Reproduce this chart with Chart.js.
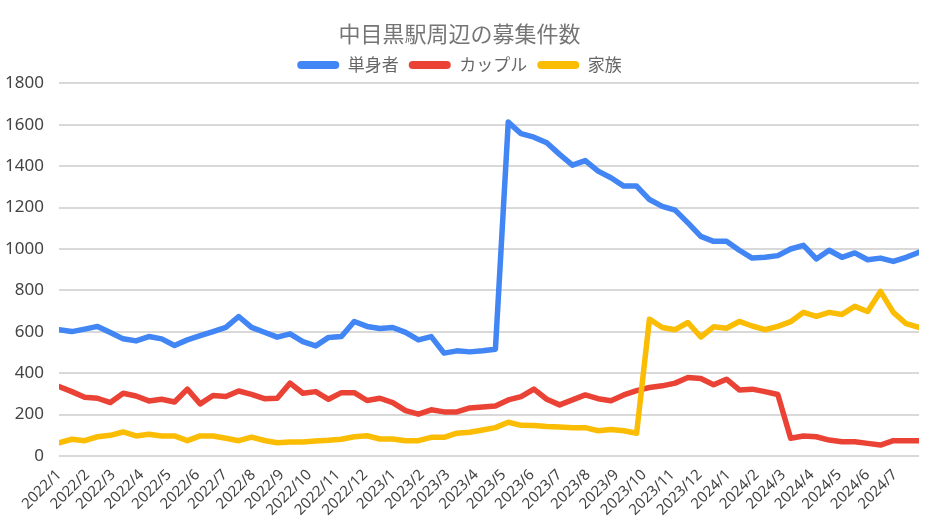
<!DOCTYPE html>
<html>
<head>
<meta charset="utf-8">
<script src="https://cdn.jsdelivr.net/npm/chart.js@4"></script>
<style>
  html, body { margin: 0; padding: 0; background: #ffffff; }
  #wrap { width: 945px; height: 532px; }
</style>
</head>
<body>
<div id="wrap"><canvas id="c" width="945" height="532"></canvas></div>
<script>
// ---- data ----
const tickLabels = ['2022/1','2022/2','2022/3','2022/4','2022/5','2022/6','2022/7','2022/8','2022/9','2022/10','2022/11','2022/12',
  '2023/1','2023/2','2023/3','2023/4','2023/5','2023/6','2023/7','2023/8','2023/9','2023/10','2023/11','2023/12',
  '2024/1','2024/2','2024/3','2024/4','2024/5','2024/6','2024/7'];
const seriesNames = ['単身者', 'カップル', '家族'];
const single = [610,601,613,626,597,566,556,577,566,534,561,581,601,621,674,621,598,
  574,590,553,532,573,577,650,626,616,621,597,561,577,497,508,503,508,516,
  1613,1557,1540,1513,1457,1405,1427,1376,1344,1304,1304,1239,1206,1188,
  1126,1061,1037,1037,994,956,960,968,1000,1018,952,994,960,981,948,956,940,960,984];
const couple = [335,311,284,279,258,303,290,266,274,261,323,252,292,287,314,298,277,
  279,352,303,311,274,306,306,268,279,258,219,202,223,213,213,232,237,242,
  271,287,323,274,247,271,295,277,267,295,316,331,339,352,
  379,374,344,371,319,323,311,297,86,97,93,77,69,69,61,53,74,74,74];
const family = [64,81,74,93,100,116,97,105,97,97,74,97,97,86,74,91,75,
  64,68,68,73,76,81,93,98,82,82,74,74,90,90,110,115,126,137,
  163,148,147,142,140,137,137,122,128,122,110,661,621,610,
  645,575,624,617,650,628,610,626,649,694,674,694,684,723,698,795,694,639,621];
const startDate = '2022/1/1';   // first observation
const intervalDays = 14;        // observations every two weeks

// ---- helpers ----
const [sy, sm, sd] = startDate.split('/').map(Number);
const t0 = Date.UTC(sy, sm - 1, sd);
function dayOfMonthLabel(lbl) {
  const [y, m] = lbl.split('/').map(Number);
  return (Date.UTC(y, m - 1, 1) - t0) / 86400000;
}
function toPoints(arr) { return arr.map((v, i) => ({ x: i * intervalDays, y: v })); }

const CJK = "'Noto Sans CJK JP', 'Noto Sans', sans-serif";
const NUM = "'Noto Sans', 'Noto Sans CJK JP', sans-serif";
const colors = ['#4285F4', '#EA4335', '#FBBC04'];
const seriesData = [single, couple, family];

const datasets = seriesData.map((arr, i) => ({
  label: seriesNames[i],
  data: toPoints(arr),
  borderColor: colors[i],
  backgroundColor: colors[i],
  borderWidth: 5.5,
  pointRadius: 0,
  pointHoverRadius: 0,
  tension: 0,
  borderJoinStyle: 'round',
  borderCapStyle: 'round',
  order: 2 - i
}));

new Chart(document.getElementById('c'), {
  type: 'line',
  data: { datasets },
  options: {
    responsive: false,
    animation: false,
    devicePixelRatio: 1,
    layout: { padding: { left: 0, right: 26, top: 0, bottom: 0 } },
    plugins: {
      title: {
        display: true,
        text: '中目黒駅周辺の募集件数',
        color: '#757575',
        font: { family: CJK, size: 22, weight: 'normal' },
        padding: { top: 20, bottom: 0 }
      },
      legend: {
        display: true,
        position: 'top',
        labels: {
          color: '#666666',
          font: { family: CJK, size: 17 },
          boxWidth: 42,
          boxHeight: 8,
          useBorderRadius: true,
          borderRadius: 4,
          padding: 10,
          sort: (a, b) => a.datasetIndex - b.datasetIndex,
          generateLabels: (chart) => {
            const items = Chart.defaults.plugins.legend.labels.generateLabels(chart);
            items.forEach(it => { it.lineWidth = 0; it.strokeStyle = 'rgba(0,0,0,0)'; });
            return items;
          }
        }
      },
      tooltip: { enabled: false }
    },
    scales: {
      x: {
        type: 'linear',
        min: 0,
        max: (single.length - 1) * intervalDays,
        grid: { display: false },
        border: { display: false },
        afterBuildTicks: (s) => { s.ticks = tickLabels.map(l => ({ value: dayOfMonthLabel(l) })); },
        afterFit: (s) => { s.height = 76; },
        ticks: {
          autoSkip: false,
          maxRotation: 45,
          minRotation: 45,
          padding: 2,
          color: '#444444',
          font: { family: NUM, size: 15 },
          callback: (v, idx) => tickLabels[idx]
        }
      },
      y: {
        min: 0,
        max: 1800,
        afterFit: (s) => { s.width = 59; },
        grid: { color: '#d9d9d9', lineWidth: 2, drawTicks: false },
        border: { display: false },
        ticks: {
          stepSize: 200,
          padding: 15,
          color: '#444444',
          font: { family: NUM, size: 17 },
          callback: (v) => String(v)
        }
      }
    }
  }
});
</script>
</body>
</html>
